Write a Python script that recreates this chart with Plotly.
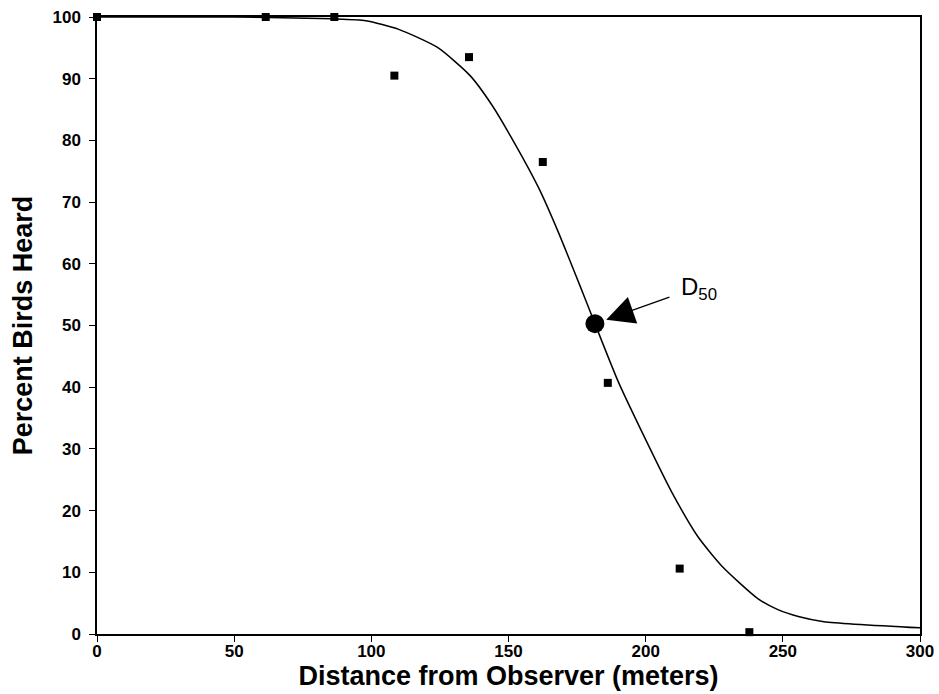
import plotly.graph_objects as go

# Observed data points (distance m, percent heard)
obs_x = [0, 61.5, 86.5, 108.4, 135.6, 162.5, 186.2, 212.4, 237.8]
obs_y = [100, 100, 100, 90.5, 93.5, 76.5, 40.7, 10.6, 0.3]

# Fitted curve
curve_x = [0, 50, 86, 98, 110, 124, 136, 144, 151, 161, 168, 176, 181.5,
           190, 200, 209.5, 219, 228, 241, 248, 256, 265, 300]
curve_y = [100, 100, 99.7, 99.4, 98, 95.1, 90.5, 85.7, 80.5, 72.3, 65.3, 56.5, 50.3,
           40.9, 31.5, 23.0, 15.8, 10.9, 5.7, 4.0, 2.8, 2.0, 1.0]

# D50 point
d50_x = [181.5]
d50_y = [50.3]

x_ticks = [0, 50, 100, 150, 200, 250, 300]
y_ticks = [0, 10, 20, 30, 40, 50, 60, 70, 80, 90, 100]

tickfont = dict(family="Liberation Sans", size=17, color="black", weight="bold")
titlefont = dict(family="Liberation Sans", size=27, color="black", weight="bold")

fig = go.Figure()
fig.add_trace(go.Scatter(x=curve_x, y=curve_y, mode="lines",
                         line=dict(color="black", width=1.5, shape="spline", smoothing=0.6),
                         cliponaxis=False, showlegend=False))
fig.add_trace(go.Scatter(x=obs_x, y=obs_y, mode="markers",
                         marker=dict(symbol="square", size=8, color="black"),
                         cliponaxis=False, showlegend=False))
fig.add_trace(go.Scatter(x=d50_x, y=d50_y, mode="markers",
                         marker=dict(symbol="circle", size=19, color="black"),
                         cliponaxis=False, showlegend=False))

fig.add_annotation(x=d50_x[0], y=d50_y[0], ax=76, ay=-27, text="",
                   showarrow=True, arrowhead=2, arrowsize=4.3, arrowwidth=1.3,
                   arrowcolor="black", standoff=12)
fig.add_annotation(x=212, y=56.0, text="D<sub>50</sub>", showarrow=False,
                   xanchor="left", yanchor="middle",
                   font=dict(family="Liberation Sans", size=24, color="black"))

fig.update_layout(
    width=939, height=694,
    margin=dict(l=97, r=19, t=17, b=60),
    paper_bgcolor="white", plot_bgcolor="white",
    xaxis=dict(range=[0, 300], tickvals=x_ticks, ticktext=[str(v) for v in x_ticks],
               showgrid=False, zeroline=False, showline=True, linecolor="black",
               linewidth=1.5, mirror=True, ticks="outside", ticklen=6, tickwidth=1.3,
               tickcolor="black", tickfont=tickfont, automargin=False,
               ticklabelstandoff=-5,
               title=dict(text="Distance from Observer (meters)", font=titlefont, standoff=4)),
    yaxis=dict(range=[0, 100], tickvals=y_ticks, ticktext=[str(v) for v in y_ticks],
               showgrid=False, zeroline=False, showline=True, linecolor="black",
               linewidth=1.5, mirror=True, ticks="outside", ticklen=6, tickwidth=1.3,
               tickcolor="black", tickfont=tickfont, automargin=False,
               ticklabelstandoff=5,
               title=dict(text="Percent Birds Heard", font=titlefont, standoff=12)),
)

# Remove the default page margin so the 939x694 figure fills the window exactly
fig.write_html("out.html", config={"displayModeBar": False},
               post_script="document.body.style.margin='0';document.body.style.overflow='hidden';")
